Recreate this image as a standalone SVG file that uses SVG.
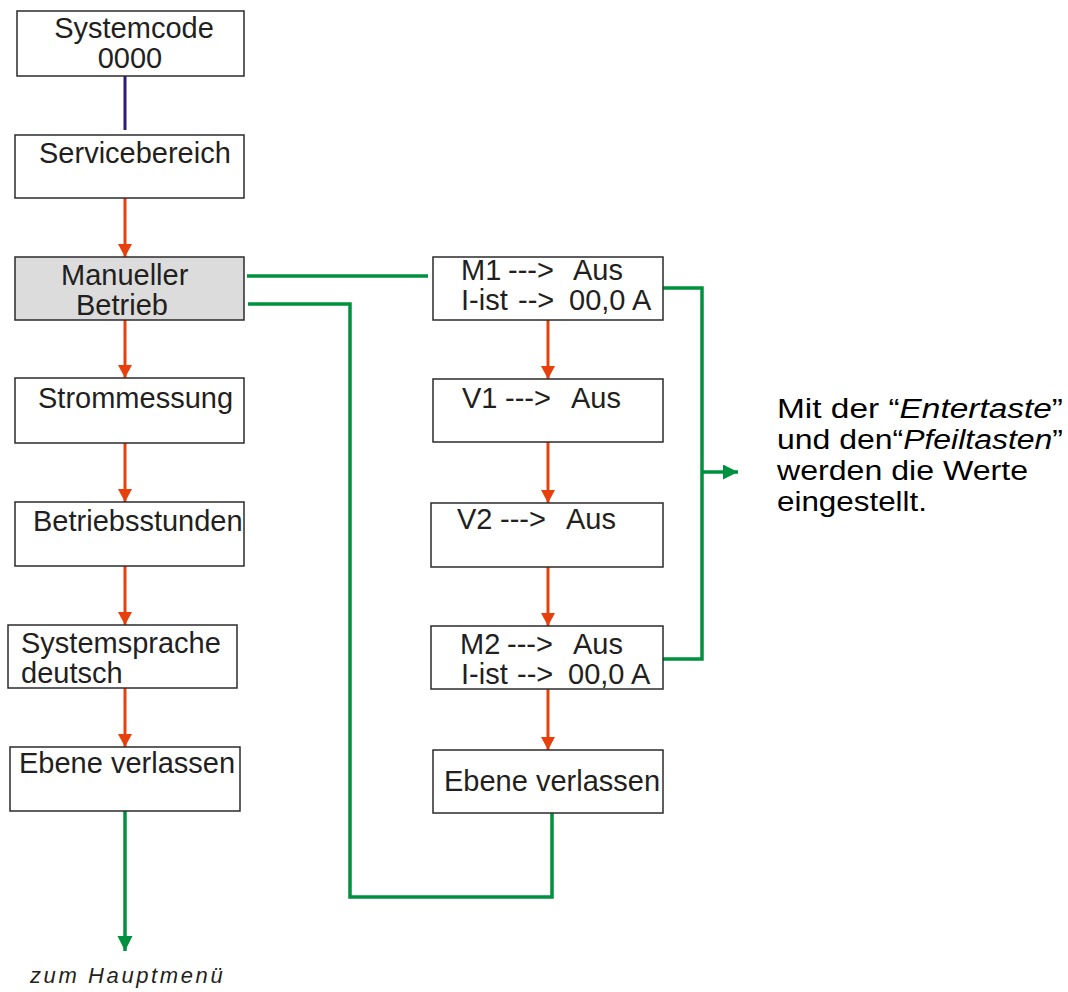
<svg xmlns="http://www.w3.org/2000/svg" width="1068" height="992" viewBox="0 0 1068 992">
<defs>
<style>
.box{fill:#ffffff;stroke:#2b2b2b;stroke-width:1.5}
.gray{fill:#dcdcdc}
.t{font-family:"Liberation Sans",Arial,sans-serif;font-size:29px;fill:#231f20}
.n{font-family:"Liberation Sans",Arial,sans-serif;font-size:27px;fill:#000}
.red{stroke:#e8400c;stroke-width:3;fill:none}
.grn{stroke:#00913f;stroke-width:3.5;fill:none}
.pur{stroke:#2e1a78;stroke-width:3;fill:none}
</style>
<marker id="ar" markerUnits="userSpaceOnUse" markerWidth="14" markerHeight="14" refX="13" refY="7" orient="auto">
<path d="M0,0 L13,7 L0,14 Z" fill="#e8400c"/>
</marker>
<marker id="ag" markerUnits="userSpaceOnUse" markerWidth="16" markerHeight="16" refX="15" refY="7.5" orient="auto">
<path d="M0,0 L15,7.5 L0,15 Z" fill="#00913f"/>
</marker>
</defs>
<rect width="1068" height="992" fill="#ffffff"/>

<g id="connectors">
<line class="pur" x1="125" y1="76" x2="125" y2="130"/>
<line class="red" x1="125" y1="198" x2="125" y2="257" marker-end="url(#ar)"/>
<line class="red" x1="125" y1="320" x2="125" y2="378" marker-end="url(#ar)"/>
<line class="red" x1="125" y1="443" x2="125" y2="502" marker-end="url(#ar)"/>
<line class="red" x1="125" y1="566" x2="125" y2="625" marker-end="url(#ar)"/>
<line class="red" x1="125" y1="688" x2="125" y2="747" marker-end="url(#ar)"/>
<line class="red" x1="548" y1="320" x2="548" y2="379" marker-end="url(#ar)"/>
<line class="red" x1="548" y1="442" x2="548" y2="503" marker-end="url(#ar)"/>
<line class="red" x1="548" y1="567" x2="548" y2="626" marker-end="url(#ar)"/>
<line class="red" x1="548" y1="689" x2="548" y2="750" marker-end="url(#ar)"/>
<line class="grn" x1="125" y1="811" x2="125" y2="951" marker-end="url(#ag)"/>
<line class="grn" x1="247" y1="276" x2="428" y2="276"/>
<polyline class="grn" points="248,304 350,304 350,897 552,897 552,813"/>
<polyline class="grn" points="663,288 702,288 702,659 663,659"/>
<line class="grn" x1="702" y1="472" x2="738" y2="472" marker-end="url(#ag)"/>
</g>

<g id="systemcode">
<rect class="box" x="17" y="11" width="227" height="65"/>
<text class="t" x="134" y="38" text-anchor="middle">Systemcode</text>
<text class="t" x="130" y="68" text-anchor="middle">0000</text>
</g>
<g id="servicebereich">
<rect class="box" x="15" y="135" width="229" height="63"/>
<text class="t" x="39" y="163">Servicebereich</text>
</g>
<g id="manueller">
<rect class="box gray" x="15" y="257" width="229" height="63"/>
<text class="t" x="61" y="285">Manueller</text>
<text class="t" x="76" y="315">Betrieb</text>
</g>
<g id="strommessung">
<rect class="box" x="15" y="378" width="229" height="65"/>
<text class="t" x="38" y="408">Strommessung</text>
</g>
<g id="betriebsstunden">
<rect class="box" x="15" y="502" width="229" height="64"/>
<text class="t" x="33" y="531">Betriebsstunden</text>
</g>
<g id="systemsprache">
<rect class="box" x="8" y="625" width="229" height="63"/>
<text class="t" x="21" y="653">Systemsprache</text>
<text class="t" x="21" y="683">deutsch</text>
</g>
<g id="ebene-links">
<rect class="box" x="10" y="747" width="230" height="64"/>
<text class="t" x="19" y="773">Ebene verlassen</text>
</g>

<g id="m1">
<rect class="box" x="433" y="257" width="230" height="63"/>
<text class="t" y="280"><tspan x="461">M1</tspan><tspan x="508">---&gt;</tspan><tspan x="573">Aus</tspan></text>
<text class="t" y="310"><tspan x="461">I-ist</tspan><tspan x="518">--&gt;</tspan><tspan x="569">00,0 A</tspan></text>
</g>
<g id="v1">
<rect class="box" x="433" y="379" width="230" height="63"/>
<text class="t" y="408"><tspan x="462">V1</tspan><tspan x="505">---&gt;</tspan><tspan x="571">Aus</tspan></text>
</g>
<g id="v2">
<rect class="box" x="431" y="503" width="232" height="64"/>
<text class="t" y="529"><tspan x="457">V2</tspan><tspan x="500">---&gt;</tspan><tspan x="566">Aus</tspan></text>
</g>
<g id="m2">
<rect class="box" x="431" y="626" width="232" height="63"/>
<text class="t" y="654"><tspan x="460">M2</tspan><tspan x="507">---&gt;</tspan><tspan x="573">Aus</tspan></text>
<text class="t" y="684"><tspan x="461">I-ist</tspan><tspan x="517">--&gt;</tspan><tspan x="568">00,0 A</tspan></text>
</g>
<g id="ebene-rechts">
<rect class="box" x="433" y="750" width="230" height="63"/>
<text class="t" x="444" y="791">Ebene verlassen</text>
</g>

<g id="hinweis">
<text class="n" x="777" y="418" textLength="286" lengthAdjust="spacingAndGlyphs">Mit der “<tspan font-style="italic">Entertaste</tspan>”</text>
<text class="n" x="777" y="449" textLength="286" lengthAdjust="spacingAndGlyphs">und den“<tspan font-style="italic">Pfeiltasten</tspan>”</text>
<text class="n" x="777" y="480" textLength="251" lengthAdjust="spacingAndGlyphs">werden die Werte</text>
<text class="n" x="777" y="511" textLength="150" lengthAdjust="spacingAndGlyphs">eingestellt.</text>
</g>
<g id="hauptmenue">
<text x="30" y="983" font-family="Liberation Sans, Arial, sans-serif" font-size="22" font-style="italic" letter-spacing="2.6" fill="#231f20">zum Hauptmenü</text>
</g>
</svg>
